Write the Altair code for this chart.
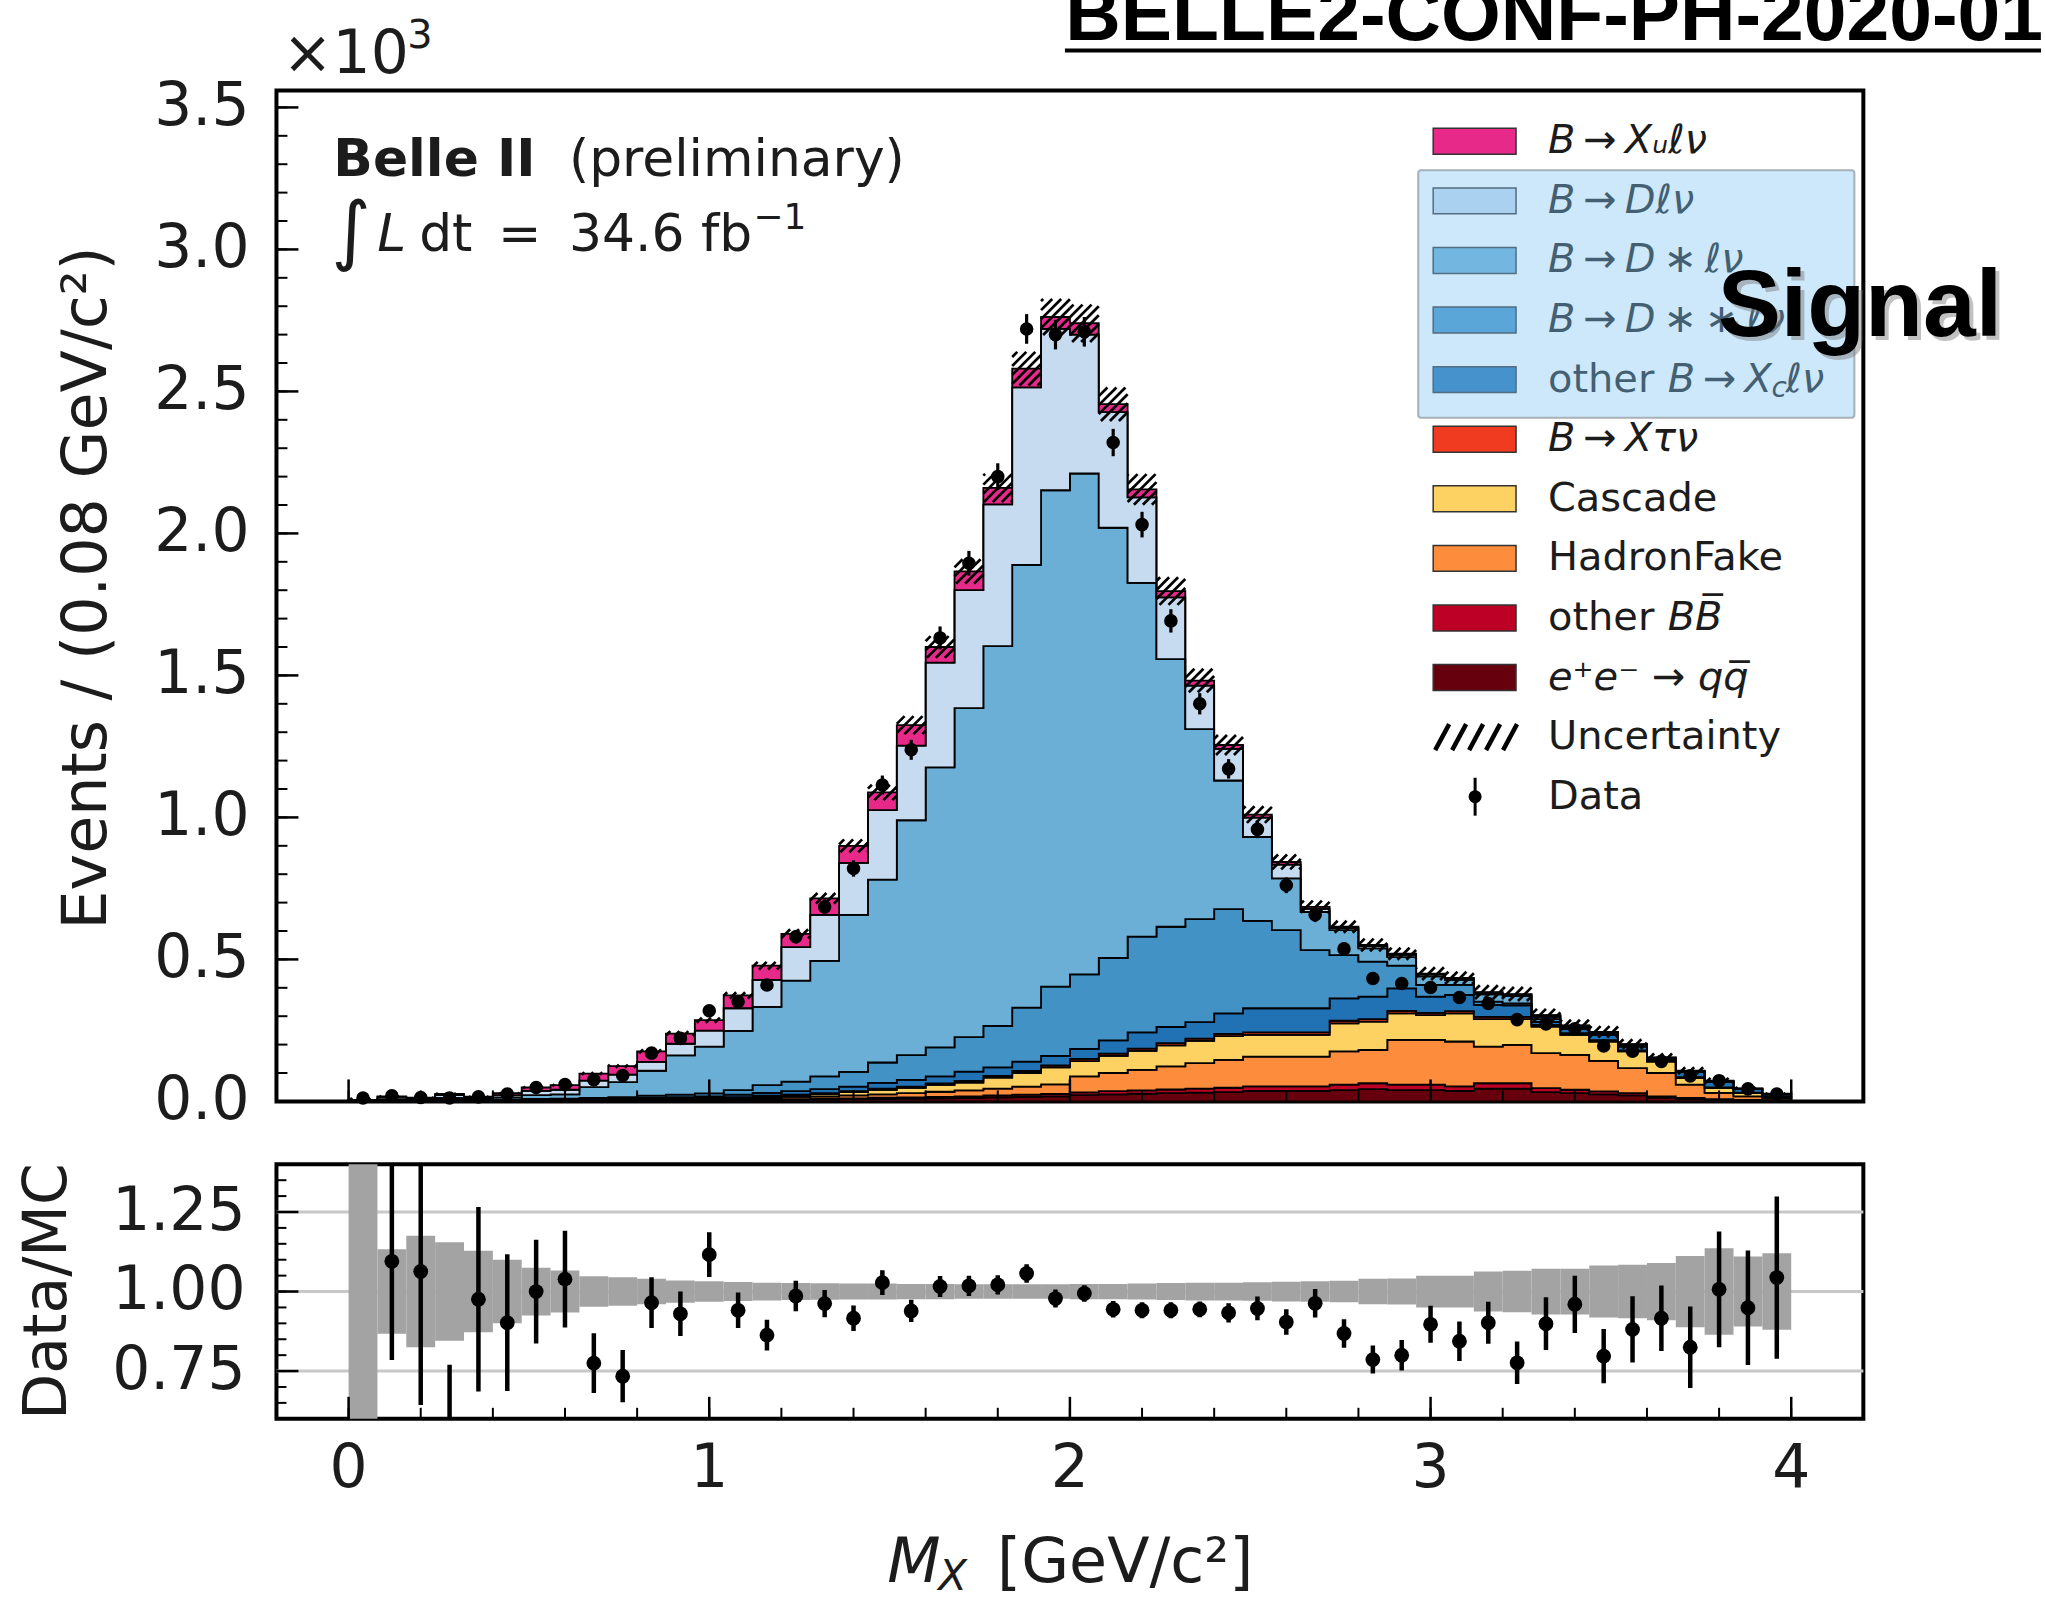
import altair as alt
import pandas as pd

# ------------------------------------------------------------------ binning
N_BINS = 50
BIN_WIDTH = 0.08
edges = [round(BIN_WIDTH * i, 2) for i in range(N_BINS + 1)]
centers = [round(BIN_WIDTH * (i + 0.5), 2) for i in range(N_BINS)]

# --------------------------------------- MC components (x10^3 / bin), bottom -> top
comp_names = ["e+e- -> qq", "other BB", "HadronFake", "Cascade", "B -> X tau nu",
              "other B -> Xc l nu", "B -> D** l nu", "B -> D* l nu", "B -> D l nu", "B -> Xu l nu"]
comp_colors = ["#67000d", "#bd0026", "#fd8d3c", "#fdd262", "#f03b20",
               "#2171b5", "#4292c6", "#6baed6", "#c6dbef", "#e7298a"]

qq = [0, 0, 0, 0, 0, .001, .001, .001, .002, .002,
      .002, .003, .003, .004, .005, .006, .007, .008, .009, .010,
      .011, .012, .014, .016, .018, .022, .025, .027, .029, .031,
      .033, .037, .037, .037, .040, .043, .040, .040, .037, .045,
      .045, .033, .029, .025, .021, .013, .009, .006, .004, .002]
other_bb = [0, 0, 0, 0, 0, 0, 0, .001, .001, .001,
            .001, .001, .001, .001, .002, .002, .003, .003, .004, .004,
            .005, .006, .007, .008, .008, .010, .011, .012, .013, .014,
            .015, .016, .016, .016, .019, .021, .019, .019, .016, .019,
            .019, .014, .012, .010, .008, .005, .003, .002, .001, .001]
hadron_fake = [0, 0, 0, 0, 0, 0, .001, .001, .001, .001,
               .002, .002, .003, .004, .005, .008, .008, .010, .012, .015,
               .018, .021, .024, .028, .034, .056, .064, .072, .081, .090,
               .098, .105, .105, .105, .117, .117, .158, .158, .158, .129,
               .135, .123, .123, .108, .088, .082, .047, .022, .013, .007]
cascade = [0, 0, 0, 0, 0, .001, .001, .001, .001, .001,
           .002, .003, .003, .004, .006, .006, .008, .012, .016, .019,
           .024, .027, .039, .048, .060, .054, .060, .067, .074, .078,
           .084, .076, .076, .076, .099, .100, .093, .087, .099, .097,
           .091, .093, .070, .068, .059, .040, .023, .017, .011, .006]
x_tau_nu = [0, 0, 0, 0, 0, 0, 0, 0, 0, .001,
            .001, .001, .002, .002, .002, .002, .003, .003, .004, .004,
            .005, .006, .006, .007, .007, .008, .008, .008, .008, .008,
            .008, .009, .009, .009, .009, .009, .009, .008, .008, .008,
            .008, .006, .006, .005, .004, .003, .003, .002, .002, .001]
other_xc = [.001, .001, .001, .002, .002, .001, .002, .002, .002, .003,
            .004, .005, .006, .009, .010, .012, .014, .016, .020, .024,
            .025, .033, .030, .033, .033, .035, .047, .057, .057, .058,
            .072, .085, .085, .085, .079, .079, .079, .057, .057, .042,
            .040, .011, .015, .018, .013, .006, .018, .020, .012, .008]
d_2star = [0, .002, .002, .003, .002, .003, .004, .004, .005, .006,
           .008, .009, .010, .016, .027, .034, .045, .052, .072, .087,
           .102, .121, .146, .190, .244, .262, .290, .337, .353, .363,
           .367, .308, .275, .205, .152, .123, .080, .041, .035, .011,
           .007, .010, .005, .004, .003, .002, .002, .001, .001, 0]
d_star = [.001, .005, .003, .007, .004, .008, .013, .015, .038, .053,
          .088, .138, .165, .208, .276, .355, .407, .553, .644, .827,
          .986, 1.159, 1.337, 1.559, 1.748, 1.764, 1.515, 1.246, .942, .669,
          .453, .295, .182, .134, .088, .047, .030, .030, .018, .026,
          .027, .008, .004, .004, .003, .002, .001, .001, 0, 0]
d_lnu = [.002, .008, .005, .010, .005, .008, .015, .016, .023, .026,
         .031, .041, .056, .080, .095, .118, .162, .183, .245, .263,
         .369, .415, .499, .625, .568, .489, .407, .301, .218, .153,
         .111, .068, .049, .011, .007, .008, .008, .007, .004, .006,
         .004, .005, .003, .002, .002, .001, .001, .001, .001, .001]
xu_lnu = [.001, .002, .002, .004, .004, .007, .012, .016, .025, .030,
          .037, .036, .037, .045, .050, .047, .058, .060, .062, .072,
          .055, .066, .058, .066, .042, .040, .028, .028, .022, .018,
          .014, .011, .009, .007, .005, .004, .004, .003, .003, .002,
          .002, .001, .001, .001, .001, .001, .001, .001, .001, .001]
components = [qq, other_bb, hadron_fake, cascade, x_tau_nu,
              other_xc, d_2star, d_star, d_lnu, xu_lnu]

# ------------------------------------------------------------------ data
data_vals = [.012, .020, .014, .012, .016, .026, .049, .059, .076, .091,
             .170, .222, .319, .351, .410, .580, .685, .820, 1.114, 1.238,
             1.632, 1.895, 2.200, 2.720, 2.700, 2.710, 2.320, 2.031, 1.692, 1.400,
             1.171, .958, .761, .657, .537, .433, .415, .401, .366, .345,
             .288, .273, .256, .195, .177, .141, .090, .073, .044, .026]
data_errs = [.0035, .0045, .0037, .0035, .0040, .0051, .0070, .0077, .0087, .0095,
             .0130, .0149, .0179, .0187, .0202, .0241, .0262, .0286, .0334, .0352,
             .0404, .0435, .0469, .0522, .0520, .0521, .0482, .0451, .0411, .0374,
             .0342, .0310, .0276, .0256, .0232, .0208, .0204, .0200, .0191, .0186,
             .0170, .0165, .0160, .0140, .0133, .0119, .0095, .0085, .0066, .0051]

# ------------------------------------------------------------------ ratio panel
ratio_vals = [None, 1.095, 1.063, 0.45, 0.976, 0.902, 1.000, 1.039, 0.775, 0.734,
              .965, .930, 1.116, .941, .863, .986, .962, .916, 1.028, .939,
              1.016, 1.018, 1.021, 1.057, .978, .994, .944, .941, .941, .944,
              .933, .947, .904, .963, .868, .786, .800, .897, .844, .902,
              .776, .899, .960, .797, .881, .916, .825, 1.007, .949, 1.044]
ratio_errs = [None, .31, .42, .32, .29, .215, .163, .152, .094, .082,
              .080, .070, .070, .056, .048, .048, .043, .040, .039, .035,
              .033, .032, .030, .029, .028, .026, .026, .025, .025, .025,
              .030, .037, .040, .045, .045, .044, .048, .058, .062, .066,
              .067, .083, .090, .085, .104, .103, .128, .182, .180, .255]
mc_rel_unc = [1.5, .133, .175, .155, .128, .100, .075, .066, .048, .045,
              .040, .035, .032, .030, .028, .027, .026, .025, .025, .024,
              .024, .023, .023, .023, .023, .024, .024, .025, .027, .028,
              .028, .029, .031, .032, .034, .040, .041, .050, .050, .063,
              .065, .072, .072, .082, .084, .090, .112, .136, .110, .120]

# ------------------------------------------------------------------ ticks / labels
main_y_major = [0.0, 0.5, 1.0, 1.5, 2.0, 2.5, 3.0, 3.5]
main_y_labels = ["0.0", "0.5", "1.0", "1.5", "2.0", "2.5", "3.0", "3.5"]
main_y_minor = [0.1 * i for i in range(36)]
x_major = [0, 1, 2, 3, 4]
x_labels = ["0", "1", "2", "3", "4"]
x_minor = [0.2 * i for i in range(21)]
ratio_y_major = [0.75, 1.0, 1.25]
ratio_y_labels = ["0.75", "1.00", "1.25"]
ratio_y_minor = [0.6 + 0.05 * i for i in range(17)]

# ------------------------------------------------------------------ layout
W, HM, HR, GAP = 1590, 1013, 255, 63
X_MIN, X_MAX = -0.2, 4.2
Y_MAX = 3.56
R_MIN, R_MAX = 0.6, 1.4
FONT = "DejaVu Sans"
TXT = "#1c1c1c"
TICK_FS = 60

xs = alt.Scale(domain=[X_MIN, X_MAX], nice=False, zero=False)
ys = alt.Scale(domain=[0, Y_MAX], nice=False, zero=False)
rs = alt.Scale(domain=[R_MIN, R_MAX], nice=False, zero=False)
DUMMY = pd.DataFrame({"d": [0]})


def text(x, y, s, size, font=FONT, align="left", baseline="alphabetic", **kw):
    return alt.Chart(DUMMY).mark_text(text=s, fontSize=size, font=font, align=align,
                                      baseline=baseline, **kw).encode(
        x=alt.value(x), y=alt.value(y))


def box(x1, y1, x2, y2, **kw):
    return alt.Chart(DUMMY).mark_rect(**kw).encode(
        x=alt.value(x1), x2=alt.value(x2), y=alt.value(y1), y2=alt.value(y2))


def seg(x1, y1, x2, y2, **kw):
    return alt.Chart(DUMMY).mark_rule(**kw).encode(
        x=alt.value(x1), x2=alt.value(x2), y=alt.value(y1), y2=alt.value(y2))


def xticks(vals, scale, h, length, width):
    return alt.Chart(pd.DataFrame({"t": vals})).mark_rule(color="black", strokeWidth=width).encode(
        x=alt.X("t:Q", scale=scale, axis=None), y=alt.value(h), y2=alt.value(h - length))


def yticks(vals, scale, length, width):
    return alt.Chart(pd.DataFrame({"t": vals})).mark_rule(color="black", strokeWidth=width).encode(
        y=alt.Y("t:Q", scale=scale, axis=None), x=alt.value(0), x2=alt.value(length))


def ylabels(vals, labs, scale, pad):
    return alt.Chart(pd.DataFrame({"t": vals, "s": labs})).mark_text(
        fontSize=TICK_FS, font=FONT, align="right", baseline="middle", color=TXT).encode(
        y=alt.Y("t:Q", scale=scale, axis=None), x=alt.value(-pad), text="s:N")


def xlabels(vals, labs, scale, h, pad):
    return alt.Chart(pd.DataFrame({"t": vals, "s": labs})).mark_text(
        fontSize=TICK_FS, font=FONT, align="center", baseline="top", color=TXT).encode(
        x=alt.X("t:Q", scale=scale, axis=None), y=alt.value(h + pad), text="s:N")


# ------------------------------------------------------------------ main panel
rows = []
for k, (name, vals) in enumerate(zip(comp_names, components)):
    for j, e in enumerate(edges):
        rows.append({"x": e, "v": vals[min(j, N_BINS - 1)], "comp": name, "k": k})
area = alt.Chart(pd.DataFrame(rows)).mark_area(
    interpolate="step-after", stroke="black", strokeWidth=1.8, clip=True).encode(
    x=alt.X("x:Q", scale=xs, axis=None),
    y=alt.Y("v:Q", stack="zero", scale=ys, axis=None),
    color=alt.Color("comp:N", scale=alt.Scale(domain=comp_names, range=comp_colors), legend=None),
    order=alt.Order("k:Q", sort="ascending"),
)

# hatched MC uncertainty (///) drawn as clipped diagonal strokes in each bin
totals = [sum(c[i] for c in components) for i in range(N_BINS)]
SX = W / (X_MAX - X_MIN)
SY = HM / Y_MAX
HSTEP = 9.0
hatch = []
for i in range(N_BINS):
    X0, X1 = edges[i] * SX, edges[i + 1] * SX
    Ylo = totals[i] * (1 - mc_rel_unc[i]) * SY
    Yhi = totals[i] * (1 + mc_rel_unc[i]) * SY
    kmin = int((X0 - Yhi) // HSTEP) - 1
    kmax = int((X1 - Ylo) // HSTEP) + 1
    for kk in range(kmin, kmax + 1):
        c = kk * HSTEP
        xa, xb = max(X0, Ylo + c), min(X1, Yhi + c)
        if xb - xa > 0.6:
            hatch.append({"x": xa / SX, "y": (xa - c) / SY, "x2": xb / SX, "y2": (xb - c) / SY})
hatch_layer = alt.Chart(pd.DataFrame(hatch)).mark_rule(color="black", strokeWidth=2.7, clip=True).encode(
    x=alt.X("x:Q", scale=xs, axis=None), y=alt.Y("y:Q", scale=ys, axis=None), x2="x2:Q", y2="y2:Q")

ddf = pd.DataFrame({"c": centers, "v": data_vals,
                    "lo": [v - e for v, e in zip(data_vals, data_errs)],
                    "hi": [v + e for v, e in zip(data_vals, data_errs)]})
data_err = alt.Chart(ddf).mark_rule(color="black", strokeWidth=3.2).encode(
    x=alt.X("c:Q", scale=xs, axis=None), y=alt.Y("lo:Q", scale=ys, axis=None), y2="hi:Q")
data_pts = alt.Chart(ddf).mark_circle(size=185, color="black", opacity=1).encode(
    x=alt.X("c:Q", scale=xs, axis=None), y=alt.Y("v:Q", scale=ys, axis=None))

main_layers = [area, hatch_layer, data_err, data_pts,
               xticks(x_major, xs, HM, 22, 2.5), xticks(x_minor, xs, HM, 11, 2),
               yticks(main_y_major, ys, 22, 2.5), yticks(main_y_minor, ys, 11, 2),
               ylabels(main_y_major, main_y_labels, ys, 27)]

# bounds anchor at the page's top-left corner
main_layers.append(box(-275, -87, -274, -86, opacity=0))

# annotations
main_layers += [
    text(6, -17, "×10", 60, color=TXT),
    text(131, -42, "3", 40, color=TXT),
    text(57, 86, "Belle II", 52, fontWeight="bold", color=TXT),
    text(293, 86, "(preliminary)", 52, color=TXT),
    text(55, 166, "∫", 76, color=TXT),
    text(101, 161, "L", 52, fontStyle="italic", color=TXT),
    text(143, 161, "dt", 52, color=TXT),
    text(222, 161, "=", 52, color=TXT),
    text(293, 161, "34.6 fb", 52, color=TXT),
    text(478, 139, "−1", 36, color=TXT),
    text(-190, HM / 2 - 8, "Events / (0.08 GeV/c²)", 62, align="center", baseline="middle",
         angle=270, color=TXT),
    text(1770, -50, "BELLE2-CONF-PH-2020-01", 77, font="Liberation Sans",
         align="right", fontWeight="bold", color="black"),
    seg(790, -40, 1768, -40, color="black", strokeWidth=4),
]

# legend
LX0, LX1, LTX = 1159, 1242, 1274


def ry(i):
    return 51 + 59.7 * i


legend_swatches = ["#e7298a", "#c6dbef", "#6baed6", "#4292c6", "#2171b5",
                   "#f03b20", "#fdd262", "#fd8d3c", "#bd0026", "#67000d"]
for i, col in enumerate(legend_swatches):
    main_layers.append(box(LX0, ry(i) - 13, LX1, ry(i) + 13, color=col, stroke="#333333",
                           strokeWidth=1.5))
legend_texts = [
    (0, LTX, "B\u2009→\u2009Xᵤℓν", 40, "italic", 0),
    (1, LTX, "B\u2009→\u2009Dℓν", 40, "italic", 0),
    (2, LTX, "B\u2009→\u2009D\u2009∗\u2009ℓν", 40, "italic", 0),
    (3, LTX, "B\u2009→\u2009D\u2009∗\u2009∗\u2009ℓν", 40, "italic", 0),
    (4, LTX, "other", 40, "normal", 0),
    (4, 1394, "B\u2009→\u2009X", 40, "italic", 0),
    (4, 1498, "c", 28, "italic", 9),
    (4, 1512, "ℓν", 40, "italic", 0),
    (5, LTX, "B\u2009→\u2009Xτν", 40, "italic", 0),
    (6, LTX, "Cascade", 40, "normal", 0),
    (7, LTX, "HadronFake", 40, "normal", 0),
    (8, LTX, "other", 40, "normal", 0),
    (8, 1394, "BB\u0305", 40, "italic", 0),
    (9, LTX, "e⁺e⁻ → qq\u0305", 40, "italic", 0),
    (10, LTX, "Uncertainty", 40, "normal", 0),
    (11, LTX, "Data", 40, "normal", 0),
]
for row, x, s, size, style, dy in legend_texts:
    main_layers.append(text(x, ry(row) + dy, s, size, baseline="middle", fontStyle=style, color=TXT))
# hatch swatch
for k in range(5):
    xb = LX0 + 2 + 17 * k
    main_layers.append(seg(xb, ry(10) + 13, xb + 14, ry(10) - 13, color="black", strokeWidth=4.5))
# data marker
main_layers.append(seg(1201, ry(11) - 19, 1201, ry(11) + 19, color="black", strokeWidth=3))
main_layers.append(alt.Chart(DUMMY).mark_circle(size=170, color="black", opacity=1).encode(
    x=alt.value(1201), y=alt.value(ry(11))))

# "Signal" highlight box and label
main_layers.append(box(1144, 80, 1581, 328, color="#7fc6f3", fillOpacity=0.4,
                       stroke="#a8b0b8", strokeWidth=2, cornerRadius=3))
main_layers.append(text(1448, 250, "Signal", 95, font="Liberation Sans", fontWeight="bold",
                        color="#777777", opacity=0.45))
main_layers.append(text(1444, 246, "Signal", 95, font="Liberation Sans", fontWeight="bold",
                        color="black"))

main = alt.layer(*main_layers).properties(width=W, height=HM)

# ------------------------------------------------------------------ ratio panel
grid = alt.Chart(pd.DataFrame({"t": ratio_y_major})).mark_rule(color="#c8c8c8", strokeWidth=3).encode(
    y=alt.Y("t:Q", scale=rs, axis=None), x=alt.value(0), x2=alt.value(W))
bdf = pd.DataFrame({"x0": edges[:-1], "x1": edges[1:],
                    "lo": [1 - u for u in mc_rel_unc], "hi": [1 + u for u in mc_rel_unc]})
band = alt.Chart(bdf).mark_rect(color="#a3a3a3", clip=True).encode(
    x=alt.X("x0:Q", scale=xs, axis=None), x2="x1:Q",
    y=alt.Y("lo:Q", scale=rs, axis=None), y2="hi:Q")
rrows = [{"c": c, "r": r, "lo": r - e, "hi": r + e}
         for c, r, e in zip(centers, ratio_vals, ratio_errs) if r is not None]
rdf = pd.DataFrame(rrows)
r_err = alt.Chart(rdf).mark_rule(color="black", strokeWidth=4.5, clip=True).encode(
    x=alt.X("c:Q", scale=xs, axis=None), y=alt.Y("lo:Q", scale=rs, axis=None), y2="hi:Q")
r_pts = alt.Chart(rdf).mark_circle(size=220, color="black", opacity=1, clip=True).encode(
    x=alt.X("c:Q", scale=xs, axis=None), y=alt.Y("r:Q", scale=rs, axis=None))

ratio_layers = [grid, band, r_err, r_pts,
                xticks(x_major, xs, HR, 22, 2.5), xticks(x_minor, xs, HR, 11, 2),
                yticks(ratio_y_major, rs, 22, 2.5), yticks(ratio_y_minor, rs, 10, 2),
                ylabels(ratio_y_major, ratio_y_labels, rs, 31),
                xlabels(x_major, x_labels, xs, HR, 21),
                text(-229, HR / 2, "Data/MC", 60, align="center", baseline="middle", angle=270,
                     color=TXT),
                text(612, 419, "M", 62, fontStyle="italic", color=TXT),
                text(663, 427, "X", 42, fontStyle="italic", color=TXT),
                text(722, 419, "[GeV/c²]", 62, color=TXT)]
ratio = alt.layer(*ratio_layers).properties(width=W, height=HR)

chart = alt.vconcat(main, ratio, spacing=GAP, bounds="flush").properties(
    padding={"left": 0, "top": -25, "right": 0, "bottom": -8}
).configure_view(stroke="black", strokeWidth=4)

chart.save("out.html", embed_options={"renderer": "svg", "actions": False})
